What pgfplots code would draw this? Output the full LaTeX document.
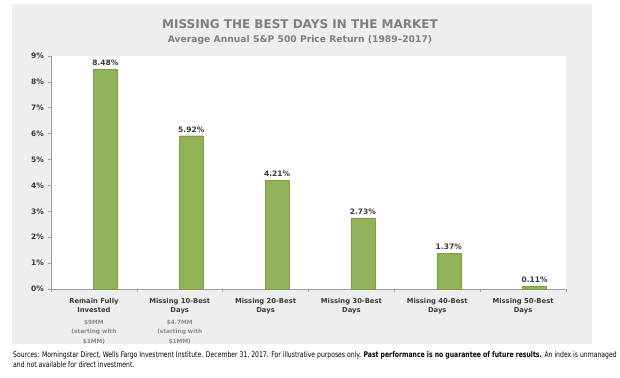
\documentclass[border=0pt]{standalone}
\usepackage{pgfplots}
\pgfplotsset{compat=1.18}
\usepackage{fontspec}
\setmainfont{DejaVu Sans}
\newfontfamily\condfont{DejaVu Sans Condensed}
\definecolor{panel}{HTML}{EEEEEE}
\definecolor{barfill}{HTML}{92B25A}
\definecolor{baredge}{HTML}{7F9E48}
\definecolor{axgray}{HTML}{A0A0A0}
\definecolor{txt}{HTML}{3A3A3A}
\definecolor{ttl}{HTML}{7F7F7F}
\definecolor{sub}{HTML}{8C8C8C}
\begin{document}
\begin{tikzpicture}
\path[fill=white] (0pt,0pt) rectangle (620pt,-377pt);
\fill[panel] (12pt,-4pt) rectangle (592pt,-344pt);
\node[font=\bfseries\fontsize{12}{14}\selectfont, text=ttl] at (300pt,-24.5pt) {MISSING THE BEST DAYS IN THE MARKET};
\node[font=\bfseries\fontsize{9.2}{11}\selectfont, text=ttl] at (300pt,-39.5pt) {Average Annual S\&P 500 Price Return (1989–2017)};
\begin{axis}[
  at={(51pt,-289pt)}, anchor=south west,
  scale only axis, width=515pt, height=233pt,
  xmin=-0.5, xmax=5.5, ymin=0, ymax=9,
  axis background/.style={fill=white},
  axis lines*=left,
  axis line style={axgray, line width=0.8pt},
  tick align=outside,
  ytick={0,1,...,9},
  yticklabels={0\%,1\%,2\%,3\%,4\%,5\%,6\%,7\%,8\%,9\%},
  major tick length=3.5pt,
  ytick style={axgray, line width=0.6pt},
  xtick={0,...,5},
  x tick style={draw=none},
  minor xtick={-0.5,0.5,...,5.5},
  minor tick length=3pt,
  minor x tick style={draw=axgray, line width=0.6pt},
  xticklabels={
    {Remain Fully\\Invested\\[2pt]{\fontsize{5.8}{7.5}\selectfont\color{sub}\$9MM}\\{\fontsize{5.8}{7.5}\selectfont\color{sub}(starting with}\\{\fontsize{5.8}{7.5}\selectfont\color{sub}\$1MM)}},
    {Missing 10-Best\\Days\\[2pt]{\fontsize{5.8}{7.5}\selectfont\color{sub}\$4.7MM}\\{\fontsize{5.8}{7.5}\selectfont\color{sub}(starting with}\\{\fontsize{5.8}{7.5}\selectfont\color{sub}\$1MM)}},
    {Missing 20-Best\\Days},
    {Missing 30-Best\\Days},
    {Missing 40-Best\\Days},
    {Missing 50-Best\\Days}},
  xticklabel style={font=\bfseries\fontsize{6.8}{9.5}\selectfont, text=txt, align=center, anchor=north, yshift=-2pt},
  yticklabel style={font=\bfseries\fontsize{7.5}{9}\selectfont, text=txt},
  ybar, bar width=24pt, bar shift=11.5pt,
  nodes near coords={\pgfmathprintnumber[fixed,fixed zerofill,precision=2]{\pgfplotspointmeta}\%},
  nodes near coords style={font=\bfseries\fontsize{7.5}{9}\selectfont, text=txt, /pgf/number format/assume math mode=true},
  clip=false,
]
\addplot[fill=barfill, draw=baredge, line width=0.4pt] coordinates {(0,8.48) (1,5.92) (2,4.21) (3,2.73) (4,1.37) (5,0.11)};
\end{axis}
\node[anchor=base west, font=\condfont\fontsize{7.8}{9}\selectfont, text=black, inner sep=0] at (13pt,-357.5pt) {\scalebox{0.872}[1]{Sources: Morningstar Direct, Wells Fargo Investment Institute. December 31, 2017. For illustrative purposes only. \textbf{Past performance is no guarantee of future results.} An index is unmanaged}};
\node[anchor=base west, font=\condfont\fontsize{7.8}{9}\selectfont, text=black, inner sep=0] at (13pt,-367pt) {\scalebox{0.872}[1]{and not available for direct investment.}};
\end{tikzpicture}
\end{document}
